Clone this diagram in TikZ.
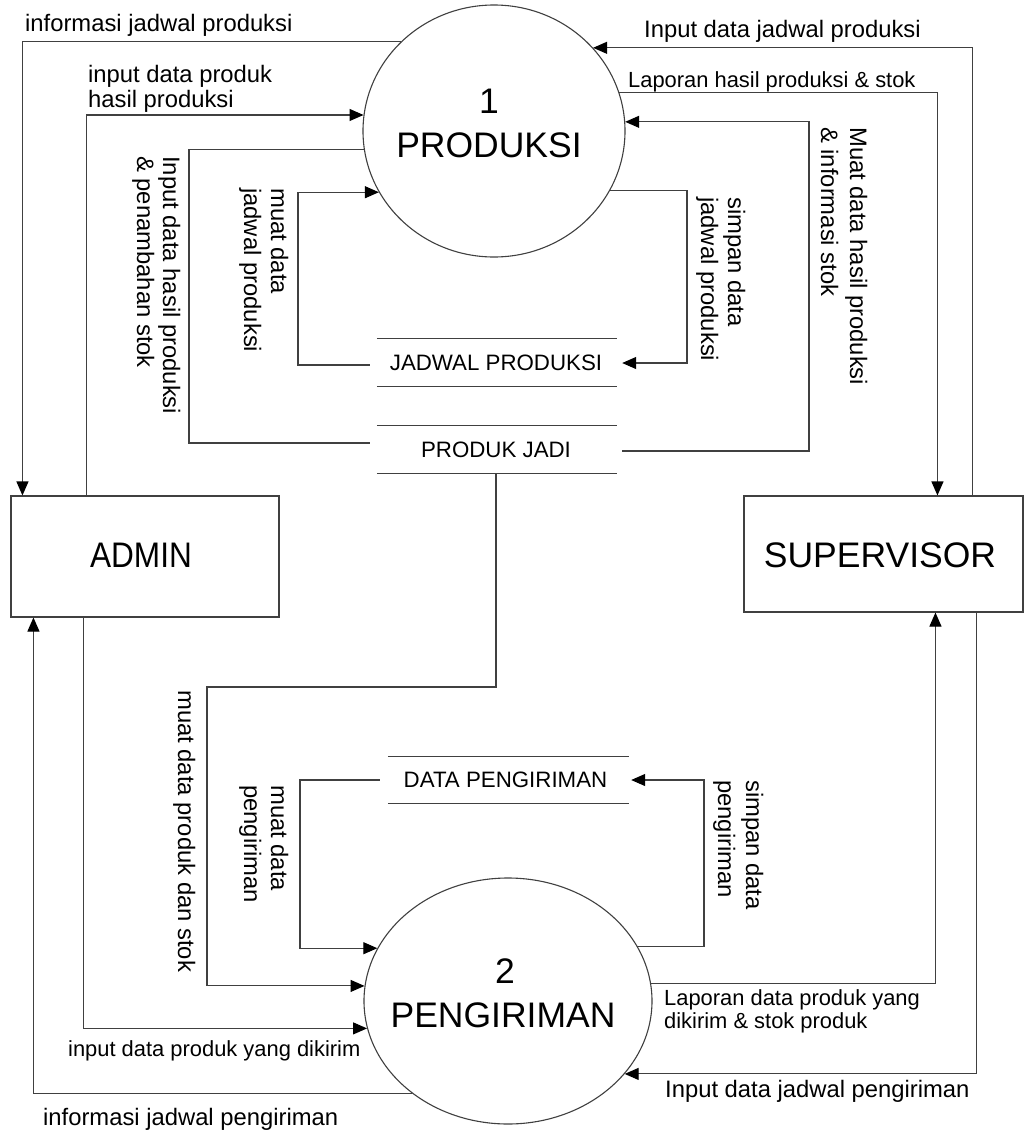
\documentclass[tikz,border=0pt]{standalone}
\usepackage{fontspec}
\setmainfont{Liberation Sans}
\usepackage{graphicx}
\usetikzlibrary{arrows.meta,shapes.geometric}
\begin{document}
\begin{tikzpicture}[x=1pt,y=-1pt,
  ln/.style={draw=black!75, line width=1.1pt},
  arr/.style={ln, -{Triangle[length=14pt,width=12pt,color=black]}},
  lbl/.style={inner sep=0pt, font=\fontsize{23.8}{26}\selectfont},
  lbs/.style={inner sep=0pt, font=\fontsize{21.9}{24}\selectfont},
  big/.style={inner sep=0pt, font=\fontsize{35.5}{40}\selectfont},
  store/.style={inner sep=0pt, minimum height=47pt, font=\fontsize{22.3}{24}\selectfont},
  proc/.style={ln, ellipse, inner sep=0pt},
  ext/.style={ln, rectangle, inner sep=0pt}
]
\useasboundingbox (0,0) rectangle (1024,1133);
\fill[white] (0,0) rectangle (1024,1133);

% processes
\node[proc, minimum width=262pt, minimum height=252pt] (p1) at (494,131) {};
\node[big, anchor=base] (p1n) at (489,113) {1};
\node[big, anchor=base] (p1t) at (489,157) {PRODUKSI};
\node[proc, minimum width=288pt, minimum height=246pt] (p2) at (508,1001) {};
\node[big, anchor=base] (p2n) at (505,983) {2};
\node[big, anchor=base] (p2t) at (503,1027) {PENGIRIMAN};

% external entities
\node[ext, minimum width=268pt, minimum height=121pt] (admin) at (145,556.5) {};
\node[big, anchor=base] (admint) at (141,567) {\scalebox{0.89}[1]{ADMIN}};
\node[ext, minimum width=279pt, minimum height=116pt] (sup) at (883.5,554) {};
\node[big, anchor=base] (supt) at (880,567) {SUPERVISOR};

% data stores
\node[store, minimum width=252pt] (jp) at (496,362.5) {JADWAL PRODUKSI};
\node[store, minimum width=252pt] (pj) at (496,449.5) {PRODUK JADI};
\node[store, minimum width=251pt] (dp) at (505.5,780) {DATA PENGIRIMAN};
\draw[ln] ([xshift=7pt]jp.north west) -- ([xshift=-5pt]jp.north east);
\draw[ln] ([xshift=7pt]jp.south west) -- ([xshift=-5pt]jp.south east);
\draw[ln] ([xshift=7pt]pj.north west) -- ([xshift=-5pt]pj.north east);
\draw[ln] ([xshift=7pt]pj.south west) -- ([xshift=-5pt]pj.south east);
\draw[ln] ([xshift=8pt]dp.north west) -- ([xshift=-2pt]dp.north east);
\draw[ln] ([xshift=8pt]dp.south west) -- ([xshift=-2pt]dp.south east);

% connectors
\coordinate (c3) at (189,443);
\coordinate (c4) at (298,365);
\coordinate (c5) at (687,363);
\coordinate (c6) at (809,451);
\coordinate (c9) at (207,687);
\coordinate (c10) at (300,780);
\coordinate (c11) at (704,780);

\draw[arr] (p1.136) -| ([xshift=12pt]admin.north west);
\draw[arr] ([xshift=76pt]admin.north west) |- (p1.173);
\draw[ln] ([yshift=6.5pt]pj.west) -- (c3) |- (p1.188);
\draw[arr] ([yshift=-2.5pt]jp.west) -- (c4) |- (p1.208);
\draw[arr] (p1.333) -| (c5) -- (c5 -| jp.east);
\draw[arr] (c6 -| pj.east) -- (c6) |- (p1.4);
\draw[arr] (p1.17) -| ([xshift=194pt]sup.north west);
\draw[arr] ([xshift=229pt]sup.north west) |- (p1.40);
\draw[arr] (pj.south) |- (c9) |- (p2.174);
\draw[arr] (dp.west) -- (c10) |- (p2.158);
\draw[arr] (p2.23) -| (c11) -- (dp.east);
\draw[arr] (p2.7) -| ([xshift=192pt]sup.south west);
\draw[arr] ([xshift=233pt]sup.south west) |- (p2.328);
\draw[arr] ([xshift=73pt]admin.south west) |- (p2.191);
\draw[arr] (p2.224) -| ([xshift=23pt]admin.south west);

% horizontal labels
\node[lbl, anchor=base west] (l1) at (25,31) {informasi jadwal produksi};
\node[lbl, anchor=base west] (l2a) at (88,82) {input data produk};
\node[lbl, anchor=base west] (l2b) at (88,107) {hasil produksi};
\node[lbs, anchor=base west] (l7) at (628,87) {Laporan hasil produksi \& stok};
\node[lbl, anchor=base west] (l8) at (644,37) {Input data jadwal produksi};
\node[lbs, anchor=base west] (l12a) at (664,1005) {Laporan data produk yang};
\node[lbs, anchor=base west] (l12b) at (664,1028) {dikirim \& stok produk};
\node[lbl, anchor=base west] (l13) at (665,1097) {Input data jadwal pengiriman};
\node[lbs, anchor=base west] (l14) at (68,1056) {input data produk yang dikirim};
\node[lbl, anchor=base west] (l15) at (43,1125) {informasi jadwal pengiriman};

% rotated labels
\node[lbl, rotate=-90, anchor=base west] (r3a) at (163,156) {Input data hasil produksi};
\node[lbl, rotate=-90, anchor=base west] (r3b) at (137,156) {\& penambahan stok};
\node[lbl, rotate=-90, anchor=base west] (r4a) at (271,188) {muat data};
\node[lbl, rotate=-90, anchor=base west] (r4b) at (244,188) {jadwal produksi};
\node[lbl, rotate=-90, anchor=base west] (r5a) at (728,197) {simpan data};
\node[lbl, rotate=-90, anchor=base west] (r5b) at (701,197) {jadwal produksi};
\node[lbl, rotate=-90, anchor=base west] (r6a) at (850,127) {Muat data hasil produksi};
\node[lbl, rotate=-90, anchor=base west] (r6b) at (821,127) {\& informasi stok};
\node[lbl, rotate=-90, anchor=base west] (r9) at (178,690) {muat data produk dan stok};
\node[lbl, rotate=-90, anchor=base west] (r10a) at (271,785) {muat data};
\node[lbl, rotate=-90, anchor=base west] (r10b) at (244,785) {pengiriman};
\node[lbl, rotate=-90, anchor=base west] (r11a) at (746,780) {simpan data};
\node[lbl, rotate=-90, anchor=base west] (r11b) at (718,780) {pengiriman};
\end{tikzpicture}
\end{document}
